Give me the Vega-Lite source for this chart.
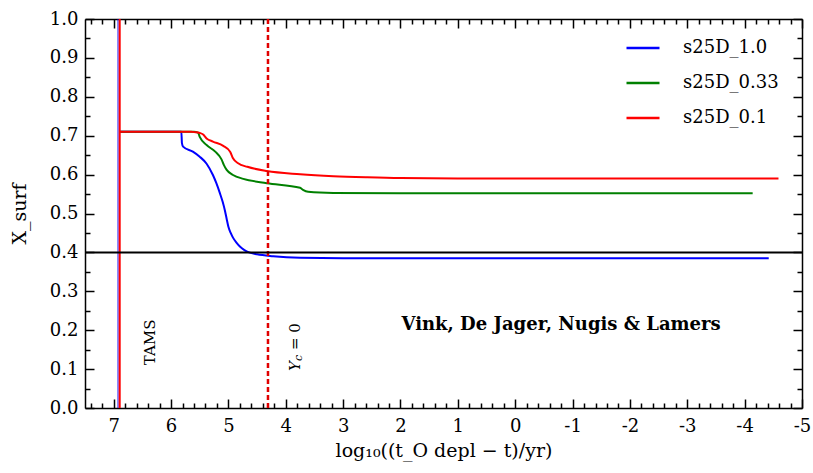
{
  "$schema": "https://vega.github.io/schema/vega-lite/v6.json",
  "width": 717,
  "height": 389,
  "autosize": {"type": "none"},
  "padding": {"left": 85, "top": 19, "right": 11, "bottom": 65},
  "background": "white",
  "config": {"view": {"stroke": null}, "font": "DejaVu Serif"},
  "datasets": {
    "curves": [
      {"model": "s25D_1.0", "t": 6.9, "X": 0.71},
      {"model": "s25D_1.0", "t": 6.5, "X": 0.71},
      {"model": "s25D_1.0", "t": 6.2, "X": 0.71},
      {"model": "s25D_1.0", "t": 5.82, "X": 0.71},
      {"model": "s25D_1.0", "t": 5.81, "X": 0.681},
      {"model": "s25D_1.0", "t": 5.79, "X": 0.672},
      {"model": "s25D_1.0", "t": 5.62, "X": 0.659},
      {"model": "s25D_1.0", "t": 5.5, "X": 0.646},
      {"model": "s25D_1.0", "t": 5.38, "X": 0.628},
      {"model": "s25D_1.0", "t": 5.27, "X": 0.599},
      {"model": "s25D_1.0", "t": 5.21, "X": 0.578},
      {"model": "s25D_1.0", "t": 5.15, "X": 0.553},
      {"model": "s25D_1.0", "t": 5.1, "X": 0.53},
      {"model": "s25D_1.0", "t": 5.06, "X": 0.507},
      {"model": "s25D_1.0", "t": 5.03, "X": 0.486},
      {"model": "s25D_1.0", "t": 5.0, "X": 0.466},
      {"model": "s25D_1.0", "t": 4.96, "X": 0.45},
      {"model": "s25D_1.0", "t": 4.92, "X": 0.438},
      {"model": "s25D_1.0", "t": 4.86, "X": 0.425},
      {"model": "s25D_1.0", "t": 4.8, "X": 0.415},
      {"model": "s25D_1.0", "t": 4.72, "X": 0.406},
      {"model": "s25D_1.0", "t": 4.64, "X": 0.4},
      {"model": "s25D_1.0", "t": 4.5, "X": 0.395},
      {"model": "s25D_1.0", "t": 4.22, "X": 0.39},
      {"model": "s25D_1.0", "t": 3.75, "X": 0.386},
      {"model": "s25D_1.0", "t": 3.0, "X": 0.385},
      {"model": "s25D_1.0", "t": 2.0, "X": 0.385},
      {"model": "s25D_1.0", "t": 0.0, "X": 0.385},
      {"model": "s25D_1.0", "t": -2.0, "X": 0.385},
      {"model": "s25D_1.0", "t": -4.42, "X": 0.385},
      {"model": "s25D_0.33", "t": 6.9, "X": 0.71},
      {"model": "s25D_0.33", "t": 6.2, "X": 0.71},
      {"model": "s25D_0.33", "t": 5.6, "X": 0.71},
      {"model": "s25D_0.33", "t": 5.53, "X": 0.708},
      {"model": "s25D_0.33", "t": 5.5, "X": 0.697},
      {"model": "s25D_0.33", "t": 5.38, "X": 0.676},
      {"model": "s25D_0.33", "t": 5.23, "X": 0.659},
      {"model": "s25D_0.33", "t": 5.12, "X": 0.639},
      {"model": "s25D_0.33", "t": 5.08, "X": 0.625},
      {"model": "s25D_0.33", "t": 5.03, "X": 0.612},
      {"model": "s25D_0.33", "t": 4.92, "X": 0.599},
      {"model": "s25D_0.33", "t": 4.74, "X": 0.589},
      {"model": "s25D_0.33", "t": 4.33, "X": 0.578},
      {"model": "s25D_0.33", "t": 3.75, "X": 0.566},
      {"model": "s25D_0.33", "t": 3.7, "X": 0.561},
      {"model": "s25D_0.33", "t": 3.61, "X": 0.556},
      {"model": "s25D_0.33", "t": 3.17, "X": 0.553},
      {"model": "s25D_0.33", "t": 2.0, "X": 0.552},
      {"model": "s25D_0.33", "t": 0.0, "X": 0.552},
      {"model": "s25D_0.33", "t": -2.0, "X": 0.552},
      {"model": "s25D_0.33", "t": -4.14, "X": 0.552},
      {"model": "s25D_0.1", "t": 6.9, "X": 0.71},
      {"model": "s25D_0.1", "t": 6.2, "X": 0.71},
      {"model": "s25D_0.1", "t": 5.65, "X": 0.71},
      {"model": "s25D_0.1", "t": 5.58, "X": 0.709},
      {"model": "s25D_0.1", "t": 5.5, "X": 0.707},
      {"model": "s25D_0.1", "t": 5.44, "X": 0.703},
      {"model": "s25D_0.1", "t": 5.38, "X": 0.693},
      {"model": "s25D_0.1", "t": 5.27, "X": 0.685},
      {"model": "s25D_0.1", "t": 5.09, "X": 0.674},
      {"model": "s25D_0.1", "t": 4.97, "X": 0.659},
      {"model": "s25D_0.1", "t": 4.92, "X": 0.642},
      {"model": "s25D_0.1", "t": 4.83, "X": 0.629},
      {"model": "s25D_0.1", "t": 4.67, "X": 0.62},
      {"model": "s25D_0.1", "t": 4.33, "X": 0.609},
      {"model": "s25D_0.1", "t": 3.75, "X": 0.601},
      {"model": "s25D_0.1", "t": 3.17, "X": 0.596},
      {"model": "s25D_0.1", "t": 2.58, "X": 0.593},
      {"model": "s25D_0.1", "t": 2.0, "X": 0.591},
      {"model": "s25D_0.1", "t": 1.0, "X": 0.59},
      {"model": "s25D_0.1", "t": 0.0, "X": 0.59},
      {"model": "s25D_0.1", "t": -2.0, "X": 0.59},
      {"model": "s25D_0.1", "t": -4.59, "X": 0.59}
    ]
  },
  "layer": [
    {
      "data": {"name": "curves"},
      "mark": {"type": "line", "strokeWidth": 2, "interpolate": "monotone"},
      "encoding": {
        "x": {
          "field": "t", "type": "quantitative",
          "scale": {"domain": [-5, 7.5], "reverse": true, "nice": false, "zero": false},
          "axis": {
            "orient": "bottom",
            "values": [7.4, 7.2, 7, 6.8, 6.6, 6.4, 6.2, 6, 5.8, 5.6, 5.4, 5.2, 5, 4.8, 4.6, 4.4, 4.2, 4, 3.8, 3.6, 3.4, 3.2, 3, 2.8, 2.6, 2.4, 2.2, 2, 1.8, 1.6, 1.4, 1.2, 1, 0.8, 0.6, 0.4, 0.2, 0, -0.2, -0.4, -0.6, -0.8, -1, -1.2, -1.4, -1.6, -1.8, -2, -2.2, -2.4, -2.6, -2.8, -3, -3.2, -3.4, -3.6, -3.8, -4, -4.2, -4.4, -4.6, -4.8, -5],
            "labelExpr": "abs(datum.value - round(datum.value)) < 0.01 ? '' + round(datum.value) : ''",
            "tickSize": {"condition": {"test": "abs(datum.value - round(datum.value)) < 0.01", "value": -9}, "value": -5},
            "tickColor": "black", "tickWidth": 1.5,
            "domainColor": "black", "domainWidth": 1.5,
            "grid": false, "labelOverlap": false, "labelFlush": false,
            "labelFont": "DejaVu Serif", "labelFontSize": 18, "labelColor": "black", "labelPadding": 18,
            "title": "log₁₀((t_O depl − t)/yr)",
            "titleFont": "DejaVu Serif", "titleFontSize": 19, "titleFontWeight": "normal", "titleColor": "black", "titlePadding": 2
          }
        },
        "y": {
          "field": "X", "type": "quantitative",
          "scale": {"domain": [0, 1], "nice": false},
          "axis": {
            "orient": "left",
            "values": [0, 0.05, 0.1, 0.15, 0.2, 0.25, 0.3, 0.35, 0.4, 0.45, 0.5, 0.55, 0.6, 0.65, 0.7, 0.75, 0.8, 0.85, 0.9, 0.95, 1],
            "labelExpr": "abs(datum.value * 10 - round(datum.value * 10)) < 0.01 ? format(datum.value, '.1f') : ''",
            "tickSize": {"condition": {"test": "abs(datum.value * 10 - round(datum.value * 10)) < 0.01", "value": -9}, "value": -5},
            "tickColor": "black", "tickWidth": 1.5,
            "domainColor": "black", "domainWidth": 1.5,
            "grid": false, "labelOverlap": false, "labelFlush": false,
            "labelFont": "DejaVu Serif", "labelFontSize": 18, "labelColor": "black", "labelPadding": 16,
            "title": "X_surf",
            "titleFont": "DejaVu Serif", "titleFontSize": 19, "titleFontWeight": "normal", "titleColor": "black", "titlePadding": 20
          }
        },
        "color": {
          "field": "model", "type": "nominal",
          "scale": {"domain": ["s25D_1.0", "s25D_0.33", "s25D_0.1"], "range": ["#0000ff", "#008000", "#ff0000"]},
          "legend": {
            "orient": "none", "legendX": 540, "legendY": 11, "title": null,
            "symbolType": "stroke", "symbolSize": 1089, "symbolStrokeWidth": 2.5,
            "labelFont": "DejaVu Serif", "labelFontSize": 18, "labelColor": "black",
            "rowPadding": 8, "labelOffset": 22
          }
        }
      }
    },
    {
      "data": {"values": [{"t": 6.925}]},
      "mark": {"type": "rule", "color": "#0000ff", "strokeWidth": 1.5, "opacity": 0.6},
      "encoding": {"x": {"field": "t", "type": "quantitative", "axis": null}}
    },
    {
      "data": {"values": [{"t": 6.895}]},
      "mark": {"type": "rule", "color": "#ff0000", "strokeWidth": 2},
      "encoding": {"x": {"field": "t", "type": "quantitative", "axis": null}}
    },
    {
      "data": {"values": [{"t": 4.31}]},
      "mark": {"type": "rule", "color": "#e00000", "strokeWidth": 2.5, "strokeDash": [5, 3]},
      "encoding": {"x": {"field": "t", "type": "quantitative", "axis": null}}
    },
    {
      "data": {"values": [{"t": 6.37, "X": 0.11, "label": "TAMS"}]},
      "mark": {"type": "text", "angle": 270, "align": "left", "baseline": "middle", "font": "DejaVu Serif", "fontSize": 15, "color": "black"},
      "encoding": {
        "x": {"field": "t", "type": "quantitative", "axis": null},
        "y": {"field": "X", "type": "quantitative", "axis": null},
        "text": {"field": "label"}
      }
    },
    {
      "data": {"values": [{"t": 3.84, "X": 0.095, "label": "Y"}]},
      "mark": {"type": "text", "angle": 270, "align": "left", "baseline": "middle", "font": "DejaVu Serif", "fontStyle": "italic", "fontSize": 15, "color": "black"},
      "encoding": {
        "x": {"field": "t", "type": "quantitative", "axis": null},
        "y": {"field": "X", "type": "quantitative", "axis": null},
        "text": {"field": "label"}
      }
    },
    {
      "data": {"values": [{"t": 3.84, "X": 0.095, "label": "c"}]},
      "mark": {"type": "text", "angle": 270, "align": "left", "baseline": "middle", "dx": 10, "dy": 4, "font": "DejaVu Serif", "fontStyle": "italic", "fontSize": 11, "color": "black"},
      "encoding": {
        "x": {"field": "t", "type": "quantitative", "axis": null},
        "y": {"field": "X", "type": "quantitative", "axis": null},
        "text": {"field": "label"}
      }
    },
    {
      "data": {"values": [{"t": 3.84, "X": 0.095, "label": "= 0"}]},
      "mark": {"type": "text", "angle": 270, "align": "left", "baseline": "middle", "dx": 21, "font": "DejaVu Serif", "fontSize": 15, "color": "black"},
      "encoding": {
        "x": {"field": "t", "type": "quantitative", "axis": null},
        "y": {"field": "X", "type": "quantitative", "axis": null},
        "text": {"field": "label"}
      }
    },
    {
      "data": {"values": [{"t": -0.8, "X": 0.213, "label": "Vink, De Jager, Nugis & Lamers"}]},
      "mark": {"type": "text", "align": "center", "baseline": "middle", "font": "DejaVu Serif", "fontWeight": "bold", "fontSize": 18, "color": "black"},
      "encoding": {
        "x": {"field": "t", "type": "quantitative", "axis": null},
        "y": {"field": "X", "type": "quantitative", "axis": null},
        "text": {"field": "label"}
      }
    },
    {
      "data": {"values": [{"X": 0.4, "t1": 7.5, "t2": -5}]},
      "mark": {"type": "rule", "color": "black", "strokeWidth": 2},
      "encoding": {
        "x": {
          "field": "t1", "type": "quantitative",
          "axis": {
            "orient": "top",
            "values": [7.4, 7.2, 7, 6.8, 6.6, 6.4, 6.2, 6, 5.8, 5.6, 5.4, 5.2, 5, 4.8, 4.6, 4.4, 4.2, 4, 3.8, 3.6, 3.4, 3.2, 3, 2.8, 2.6, 2.4, 2.2, 2, 1.8, 1.6, 1.4, 1.2, 1, 0.8, 0.6, 0.4, 0.2, 0, -0.2, -0.4, -0.6, -0.8, -1, -1.2, -1.4, -1.6, -1.8, -2, -2.2, -2.4, -2.6, -2.8, -3, -3.2, -3.4, -3.6, -3.8, -4, -4.2, -4.4, -4.6, -4.8, -5],
            "labels": false,
            "tickSize": {"condition": {"test": "abs(datum.value - round(datum.value)) < 0.01", "value": -9}, "value": -5},
            "tickColor": "black", "tickWidth": 1.5,
            "domainColor": "black", "domainWidth": 1.5,
            "grid": false, "title": null
          }
        },
        "x2": {"field": "t2"},
        "y": {
          "field": "X", "type": "quantitative",
          "axis": {
            "orient": "right",
            "values": [0, 0.05, 0.1, 0.15, 0.2, 0.25, 0.3, 0.35, 0.4, 0.45, 0.5, 0.55, 0.6, 0.65, 0.7, 0.75, 0.8, 0.85, 0.9, 0.95, 1],
            "labels": false,
            "tickSize": {"condition": {"test": "abs(datum.value * 10 - round(datum.value * 10)) < 0.01", "value": -9}, "value": -5},
            "tickColor": "black", "tickWidth": 1.5,
            "domainColor": "black", "domainWidth": 1.5,
            "grid": false, "title": null
          }
        }
      }
    }
  ],
  "resolve": {"axis": {"x": "independent", "y": "independent"}}
}
